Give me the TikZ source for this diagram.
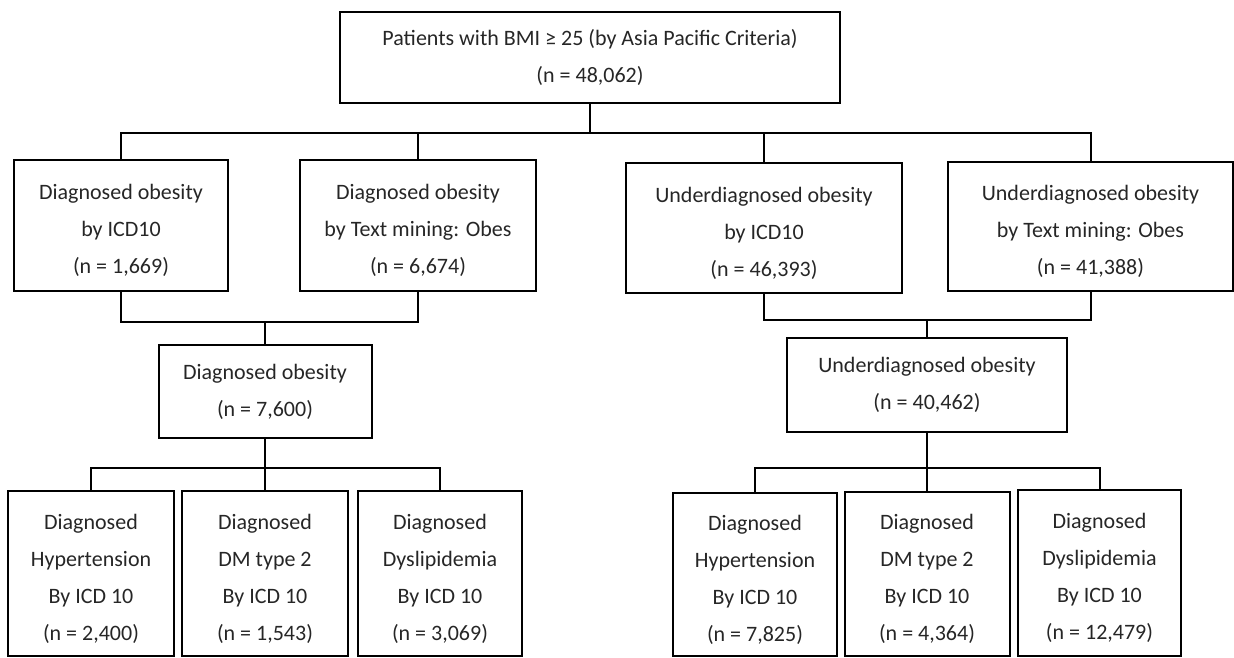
\documentclass[tikz,border=0pt]{standalone}
\usepackage{fontspec}
\setmainfont{Carlito}
\usetikzlibrary{positioning}
\newcommand{\tgap}{\rule{0pt}{26pt}}

\begin{document}
\begin{tikzpicture}[x=1pt,y=-1pt,line width=2pt]
  \tikzstyle{box}=[draw,rectangle,align=center,inner sep=0pt,text=black!85,font=\fontsize{22}{37}\selectfont]
  \useasboundingbox (0,0) rectangle (1234,658);

  \node[box,minimum width=500,minimum height=91] (top) at (590,57.5) {Patients with BMI ≥ 25 (by Asia Pacific Criteria)\\(n = 48,062)};

  \node[box,minimum width=214,minimum height=131] (D_icd) at (121,225.5) {\tgap Diagnosed obesity\\by ICD10\\(n = 1,669)};
  \node[box,minimum width=236,minimum height=131] (D_txt) at (418,225.5) {\tgap Diagnosed obesity\\by Text mining: Obes\\(n = 6,674)};
  \node[box,minimum width=276,minimum height=130] (U_icd) at (764,228) {\tgap Underdiagnosed obesity\\by ICD10\\(n = 46,393)};
  \node[box,minimum width=285,minimum height=129] (U_txt) at (1090.5,226.5) {\tgap Underdiagnosed obesity\\by Text mining: Obes\\(n = 41,388)};

  \node[box,minimum width=213,minimum height=93] (D_all) at (265,391.5) {Diagnosed obesity\\(n = 7,600)};
  \node[box,minimum width=280,minimum height=94] (U_all) at (927,385) {Underdiagnosed obesity\\(n = 40,462)};

  \node[box,minimum width=166,minimum height=165] (D_ht) at (91,573.5) {\tgap Diagnosed\\Hypertension\\By ICD 10\\(n = 2,400)};
  \node[box,minimum width=166,minimum height=165] (D_dm) at (265,573.5) {\tgap Diagnosed\\DM type 2\\By ICD 10\\(n = 1,543)};
  \node[box,minimum width=164,minimum height=165] (D_dl) at (440,573.5) {\tgap Diagnosed\\Dyslipidemia\\By ICD 10\\(n = 3,069)};

  \node[box,minimum width=164,minimum height=163] (U_ht) at (755,574.5) {\tgap Diagnosed\\Hypertension\\By ICD 10\\(n = 7,825)};
  \node[box,minimum width=165,minimum height=164] (U_dm) at (927,574) {\tgap Diagnosed\\DM type 2\\By ICD 10\\(n = 4,364)};
  \node[box,minimum width=163,minimum height=166] (U_dl) at (1099.5,573) {\tgap Diagnosed\\Dyslipidemia\\By ICD 10\\(n = 12,479)};

  % bus levels
  \coordinate (bus0) at (0,133);
  \coordinate (busD) at (0,322);
  \coordinate (busU) at (0,320);
  \coordinate (bus2) at (0,468);

  \draw (top.south) -- (top.south |- bus0);
  \draw (D_icd.north) -- (D_icd.north |- bus0) -- (U_txt.north |- bus0) -- (U_txt.north);
  \draw (D_txt.north) -- (D_txt.north |- bus0);
  \draw (U_icd.north) -- (U_icd.north |- bus0);

  \draw (D_icd.south) -- (D_icd.south |- busD) -- (D_txt.south |- busD) -- (D_txt.south);
  \draw (D_all.north) -- (D_all.north |- busD);
  \draw (U_icd.south) -- (U_icd.south |- busU) -- (U_txt.south |- busU) -- (U_txt.south);
  \draw (U_all.north) -- (U_all.north |- busU);

  \draw (D_ht.north) -- (D_ht.north |- bus2) -- (D_dl.north |- bus2) -- (D_dl.north);
  \draw (D_all.south) -- (D_dm.north);
  \draw (U_ht.north) -- (U_ht.north |- bus2) -- (U_dl.north |- bus2) -- (U_dl.north);
  \draw (U_all.south) -- (U_dm.north);
\end{tikzpicture}
\end{document}
